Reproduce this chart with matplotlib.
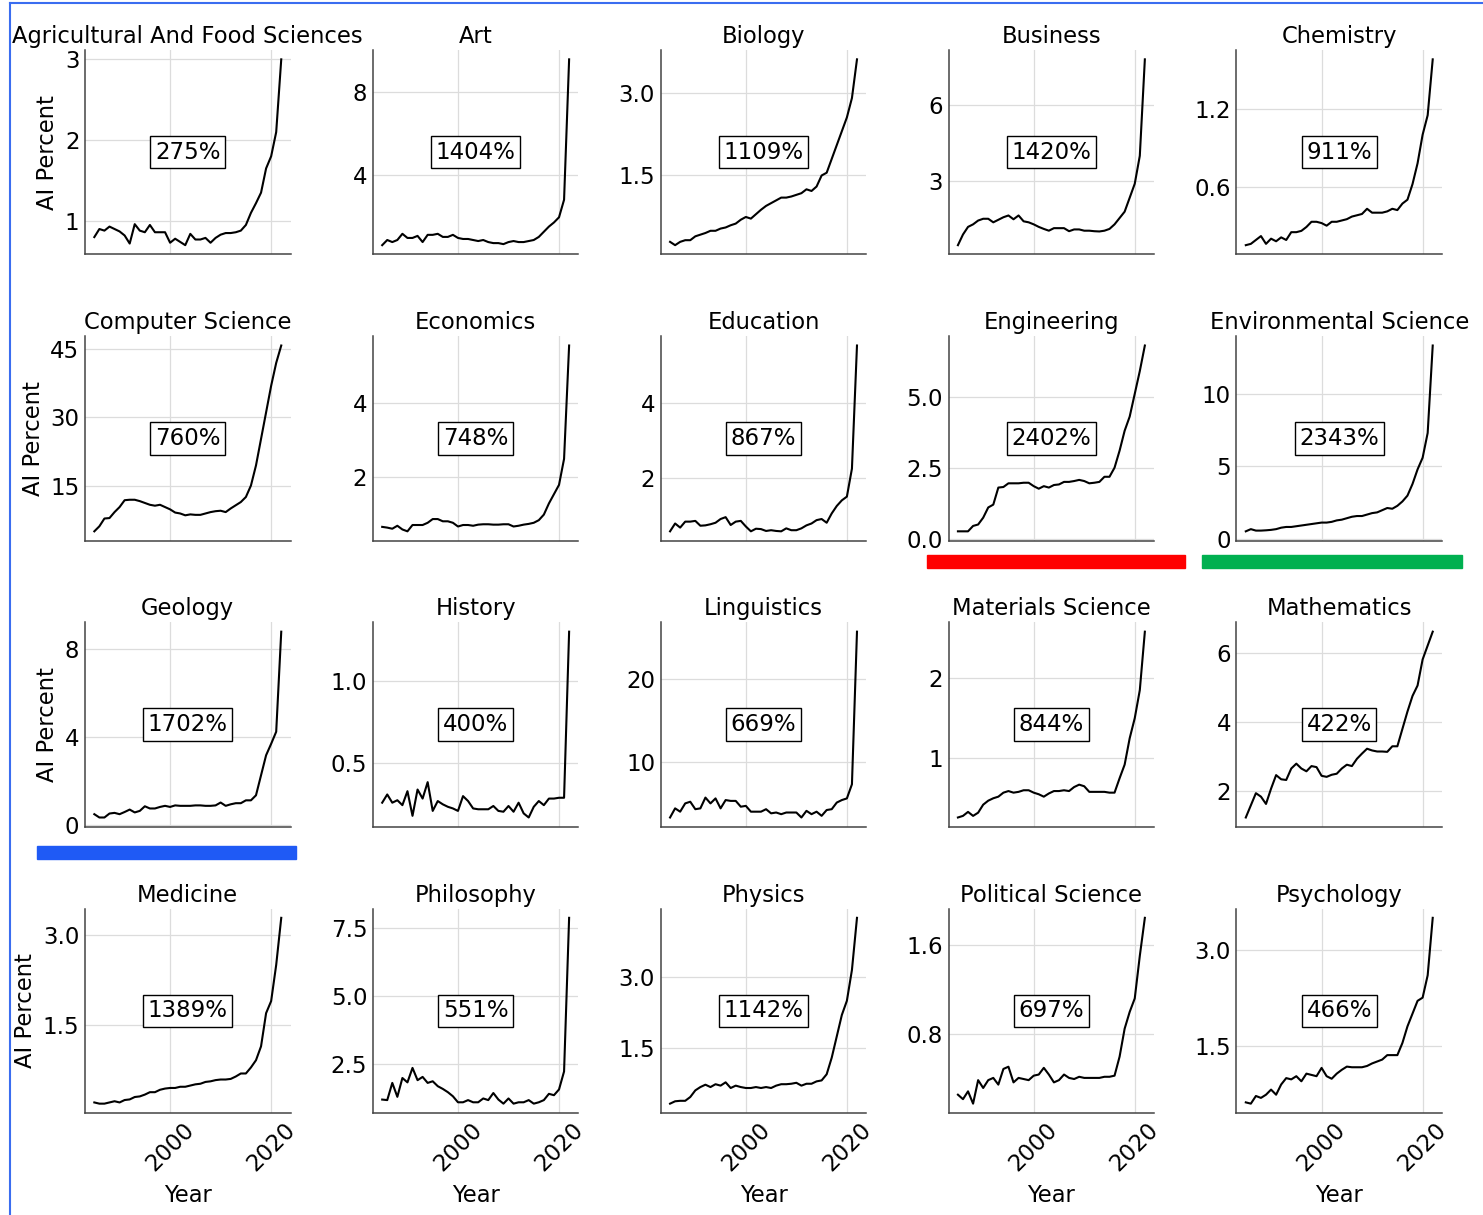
import matplotlib.pyplot as plt
from matplotlib.lines import Line2D
from matplotlib.patches import Rectangle

years = list(range(1985, 2023))

fields = ['Agricultural And Food Sciences', 'Art', 'Biology', 'Business', 'Chemistry',
          'Computer Science', 'Economics', 'Education', 'Engineering', 'Environmental Science',
          'Geology', 'History', 'Linguistics', 'Materials Science', 'Mathematics',
          'Medicine', 'Philosophy', 'Physics', 'Political Science', 'Psychology']

growth = ['275%', '1404%', '1109%', '1420%', '911%',
          '760%', '748%', '867%', '2402%', '2343%',
          '1702%', '400%', '669%', '844%', '422%',
          '1389%', '551%', '1142%', '697%', '466%']

yticks = [[1, 2, 3], [4, 8], [1.5, 3.0], [3, 6], [0.6, 1.2],
          [15, 30, 45], [2, 4], [2, 4], [0.0, 2.5, 5.0], [0, 5, 10],
          [0, 4, 8], [0.5, 1.0], [10, 20], [1, 2], [2, 4, 6],
          [1.5, 3.0], [2.5, 5.0, 7.5], [1.5, 3.0], [0.8, 1.6], [1.5, 3.0]]

# AI percent per year, 1985-2022
agri = [0.80, 0.90, 0.88, 0.93, 0.90, 0.87, 0.82, 0.72, 0.96, 0.88, 0.86, 0.95, 0.86, 0.86, 0.86,
        0.73, 0.78, 0.74, 0.70, 0.84, 0.77, 0.77, 0.79, 0.73, 0.79, 0.83, 0.85, 0.85, 0.86, 0.88,
        0.95, 1.10, 1.22, 1.35, 1.65, 1.80, 2.10, 3.00]
art = [0.60, 0.85, 0.75, 0.85, 1.15, 0.95, 0.95, 1.05, 0.75, 1.10, 1.10, 1.15, 1.00, 1.00, 1.10,
       0.95, 0.90, 0.90, 0.85, 0.80, 0.85, 0.75, 0.70, 0.70, 0.65, 0.75, 0.80, 0.75, 0.75, 0.80,
       0.85, 1.00, 1.25, 1.50, 1.70, 1.95, 2.80, 9.60]
biology = [0.30, 0.24, 0.30, 0.33, 0.33, 0.40, 0.43, 0.46, 0.50, 0.50, 0.54, 0.56, 0.60, 0.63, 0.70,
           0.75, 0.72, 0.80, 0.88, 0.95, 1.00, 1.05, 1.10, 1.10, 1.12, 1.15, 1.18, 1.25, 1.22, 1.30,
           1.50, 1.55, 1.80, 2.05, 2.30, 2.55, 2.90, 3.60]
business = [0.48, 0.90, 1.20, 1.30, 1.45, 1.52, 1.52, 1.38, 1.48, 1.58, 1.65, 1.50, 1.65, 1.42, 1.38,
            1.30, 1.20, 1.12, 1.05, 1.15, 1.15, 1.15, 1.03, 1.10, 1.10, 1.05, 1.05, 1.03, 1.02, 1.05,
            1.12, 1.30, 1.55, 1.80, 2.35, 2.90, 4.00, 7.80]
chemistry = [0.15, 0.16, 0.19, 0.22, 0.16, 0.20, 0.18, 0.21, 0.19, 0.25, 0.25, 0.26, 0.29, 0.33, 0.33,
             0.32, 0.30, 0.33, 0.33, 0.34, 0.35, 0.37, 0.38, 0.39, 0.43, 0.40, 0.40, 0.40, 0.41, 0.43,
             0.42, 0.47, 0.50, 0.62, 0.78, 1.00, 1.15, 1.58]
comp_sci = [5.1, 6.2, 7.9, 8.0, 9.3, 10.4, 11.9, 12.0, 12.0, 11.7, 11.3, 10.9, 10.7, 10.9, 10.4,
            9.9, 9.2, 9.0, 8.6, 8.8, 8.7, 8.7, 9.0, 9.3, 9.5, 9.6, 9.3, 10.1, 10.8, 11.5,
            12.6, 15.1, 19.5, 25.3, 31.1, 36.9, 41.9, 45.7]
economics = [0.67, 0.65, 0.62, 0.70, 0.60, 0.55, 0.72, 0.72, 0.72, 0.78, 0.88, 0.88, 0.82, 0.82, 0.78,
             0.68, 0.72, 0.72, 0.70, 0.73, 0.74, 0.74, 0.73, 0.73, 0.74, 0.74, 0.68, 0.70, 0.73, 0.75,
             0.78, 0.85, 1.00, 1.30, 1.55, 1.80, 2.50, 5.55]
education = [0.57, 0.78, 0.67, 0.83, 0.83, 0.85, 0.72, 0.73, 0.76, 0.80, 0.90, 0.95, 0.74, 0.83, 0.85,
             0.70, 0.57, 0.64, 0.63, 0.58, 0.60, 0.58, 0.57, 0.65, 0.60, 0.60, 0.65, 0.73, 0.78, 0.87,
             0.90, 0.80, 1.05, 1.25, 1.40, 1.50, 2.25, 5.55]
engineering = [0.26, 0.26, 0.26, 0.45, 0.50, 0.74, 1.10, 1.20, 1.80, 1.82, 1.95, 1.95, 1.95, 1.97, 1.97,
               1.85, 1.76, 1.85, 1.80, 1.89, 1.91, 2.00, 2.00, 2.03, 2.07, 2.03, 1.95, 1.97, 2.00, 2.18,
               2.18, 2.50, 3.10, 3.80, 4.30, 5.10, 5.90, 6.80]
env_sci = [0.55, 0.70, 0.60, 0.60, 0.62, 0.65, 0.70, 0.80, 0.85, 0.85, 0.90, 0.95, 1.00, 1.05, 1.10,
           1.15, 1.15, 1.20, 1.30, 1.35, 1.45, 1.55, 1.60, 1.60, 1.70, 1.80, 1.85, 2.00, 2.15, 2.10,
           2.30, 2.60, 3.00, 3.80, 4.80, 5.60, 7.30, 13.30]
geology = [0.50, 0.35, 0.35, 0.53, 0.56, 0.50, 0.60, 0.71, 0.58, 0.65, 0.86, 0.76, 0.76, 0.83, 0.88,
           0.83, 0.90, 0.88, 0.88, 0.88, 0.90, 0.90, 0.88, 0.88, 0.90, 1.03, 0.88, 0.95, 1.00, 1.00,
           1.13, 1.13, 1.36, 2.27, 3.18, 3.70, 4.25, 8.80]
history = [0.26, 0.31, 0.26, 0.275, 0.245, 0.33, 0.18, 0.34, 0.285, 0.385, 0.21, 0.27, 0.25, 0.235, 0.225,
           0.21, 0.30, 0.27, 0.225, 0.22, 0.22, 0.22, 0.24, 0.21, 0.205, 0.24, 0.205, 0.26, 0.195, 0.17,
           0.235, 0.27, 0.245, 0.285, 0.285, 0.29, 0.29, 1.30]
linguistics = [3.3, 4.4, 4.0, 5.0, 5.2, 4.3, 4.4, 5.7, 5.0, 5.6, 4.4, 5.4, 5.3, 5.3, 4.6,
               4.7, 4.0, 4.0, 4.0, 4.3, 3.8, 3.9, 3.7, 3.9, 3.9, 3.9, 3.3, 4.1, 3.7, 4.0,
               3.5, 4.2, 4.3, 5.1, 5.4, 5.6, 7.3, 25.7]
materials = [0.26, 0.28, 0.33, 0.28, 0.32, 0.42, 0.47, 0.50, 0.52, 0.57, 0.59, 0.57, 0.58, 0.60, 0.60,
             0.57, 0.55, 0.52, 0.56, 0.59, 0.59, 0.60, 0.59, 0.64, 0.67, 0.65, 0.58, 0.58, 0.58, 0.58,
             0.57, 0.57, 0.75, 0.92, 1.25, 1.50, 1.85, 2.58]
mathematics = [1.25, 1.60, 1.95, 1.85, 1.64, 2.08, 2.47, 2.35, 2.33, 2.66, 2.80, 2.66, 2.58, 2.73, 2.70,
               2.45, 2.42, 2.48, 2.51, 2.66, 2.77, 2.73, 2.94, 3.09, 3.23, 3.18, 3.15, 3.15, 3.14, 3.30,
               3.30, 3.80, 4.30, 4.75, 5.05, 5.80, 6.20, 6.60]
medicine = [0.22, 0.20, 0.20, 0.22, 0.24, 0.22, 0.26, 0.27, 0.31, 0.32, 0.35, 0.39, 0.39, 0.43, 0.45,
            0.46, 0.46, 0.48, 0.48, 0.50, 0.52, 0.53, 0.56, 0.57, 0.59, 0.60, 0.60, 0.61, 0.65, 0.70,
            0.70, 0.80, 0.92, 1.15, 1.70, 1.90, 2.50, 3.28]
philosophy = [1.21, 1.19, 1.82, 1.31, 2.00, 1.84, 2.37, 1.92, 2.04, 1.82, 1.88, 1.70, 1.60, 1.48, 1.33,
              1.11, 1.11, 1.19, 1.11, 1.11, 1.25, 1.19, 1.45, 1.21, 1.06, 1.25, 1.06, 1.11, 1.11, 1.19,
              1.06, 1.11, 1.19, 1.42, 1.37, 1.58, 2.24, 7.87]
physics = [0.33, 0.38, 0.39, 0.39, 0.47, 0.61, 0.68, 0.73, 0.68, 0.74, 0.71, 0.78, 0.66, 0.71, 0.68,
           0.66, 0.66, 0.68, 0.66, 0.68, 0.66, 0.71, 0.74, 0.74, 0.75, 0.77, 0.71, 0.75, 0.75, 0.80,
           0.82, 0.95, 1.30, 1.75, 2.20, 2.50, 3.15, 4.25]
pol_sci = [0.26, 0.22, 0.29, 0.18, 0.39, 0.32, 0.39, 0.41, 0.35, 0.49, 0.51, 0.37, 0.41, 0.40, 0.39,
           0.43, 0.44, 0.50, 0.44, 0.37, 0.39, 0.44, 0.41, 0.40, 0.42, 0.41, 0.41, 0.41, 0.41, 0.42,
           0.42, 0.43, 0.60, 0.85, 1.00, 1.12, 1.50, 1.84]
psychology = [0.61, 0.59, 0.71, 0.68, 0.73, 0.81, 0.73, 0.89, 0.99, 0.97, 1.02, 0.94, 1.06, 1.04, 1.02,
              1.15, 1.02, 0.98, 1.06, 1.12, 1.17, 1.16, 1.16, 1.16, 1.18, 1.22, 1.25, 1.28, 1.35, 1.35,
              1.35, 1.54, 1.80, 2.00, 2.20, 2.25, 2.60, 3.50]

series = [agri, art, biology, business, chemistry,
          comp_sci, economics, education, engineering, env_sci,
          geology, history, linguistics, materials, mathematics,
          medicine, philosophy, physics, pol_sci, psychology]

plt.rcParams['font.family'] = 'DejaVu Sans'
plt.rcParams['font.size'] = 16

fig, axes = plt.subplots(4, 5, figsize=(14.83, 12.15), dpi=100)
fig.subplots_adjust(left=0.0573, right=0.9724, top=0.9588, bottom=0.084,
                    wspace=0.4, hspace=0.4)

for i, ax in enumerate(axes.flat):
    ax.plot(years, series[i], color='black', lw=1.5)
    ax.set_title(fields[i], fontsize=16.3, pad=5)
    ax.set_xticks([2000, 2020])
    ax.set_yticks(yticks[i])
    ax.grid(True, color='#dcdcdc', lw=0.9)
    ax.set_axisbelow(True)
    ax.tick_params(length=0, labelsize=16.5, pad=4)
    for s in ['top', 'right']:
        ax.spines[s].set_visible(False)
    for s in ['left', 'bottom']:
        ax.spines[s].set_color('#444444')
        ax.spines[s].set_linewidth(1.1)
    # growth label in the middle of each panel
    ax.text(0.5, 0.5, growth[i], transform=ax.transAxes, ha='center', va='center',
            fontsize=16.5, bbox=dict(boxstyle='square,pad=0.2', fc='white', ec='black', lw=1))
    row, col = divmod(i, 5)
    if col == 0:
        ax.set_ylabel('AI Percent', fontsize=16.3)
    if row == 3:
        ax.set_xlabel('Year', fontsize=16.3, labelpad=6)
        ax.tick_params(axis='x', labelrotation=45)
    else:
        ax.tick_params(axis='x', labelbottom=False)

# highlight bars and blue frame
W, H = 1483, 1215
def px_rect(x0, y0, x1, y1, color):
    fig.patches.append(Rectangle((x0 / W, 1 - y1 / H), (x1 - x0) / W, (y1 - y0) / H,
                                 transform=fig.transFigure, color=color, zorder=5))

px_rect(927, 555, 1185, 568, '#ff0000')
px_rect(1202, 555, 1462, 568, '#00b050')
px_rect(37, 846, 296, 859, '#1f5af5')

fig.lines.append(Line2D([10 / W, 10 / W], [0, 1 - 3 / H], transform=fig.transFigure,
                        color='#3a6df0', lw=1.5))
fig.lines.append(Line2D([10 / W, 1], [1 - 3 / H, 1 - 3 / H], transform=fig.transFigure,
                        color='#3a6df0', lw=1.5))

fig.savefig('out.png', dpi=100)
